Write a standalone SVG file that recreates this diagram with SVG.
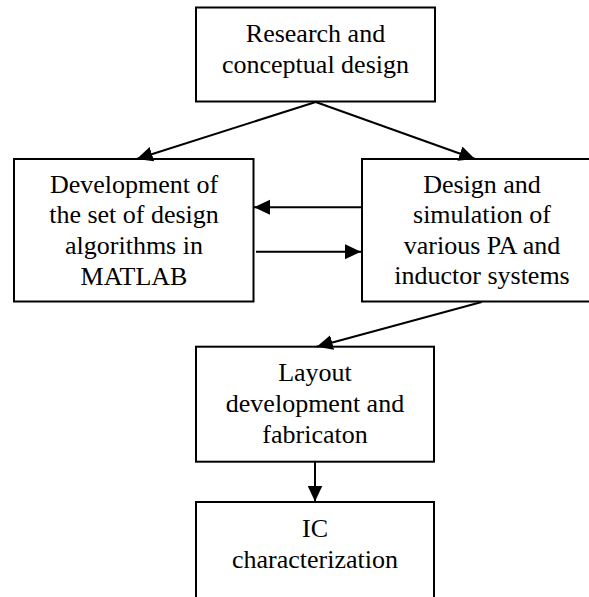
<svg xmlns="http://www.w3.org/2000/svg" width="589" height="597" viewBox="0 0 589 597">
  <style>
    .box { fill: #ffffff; stroke: #000000; stroke-width: 2; }
    .lbl { font-family: "Liberation Serif", "Times New Roman", serif; font-size: 26px; fill: #000000; text-anchor: middle; }
    .link { fill: none; stroke: #000000; stroke-width: 2; marker-end: url(#head); }
  </style>
  <defs>
    <marker id="head" markerUnits="userSpaceOnUse" markerWidth="17" markerHeight="16" refX="16" refY="7.5" orient="auto">
      <path d="M0,0 L16,7.5 L0,15 Z" fill="#000000"/>
    </marker>
  </defs>
  <rect width="589" height="597" fill="#ffffff"/>

  <g id="research">
    <rect class="box" x="196" y="7.5" width="239" height="94"/>
    <text class="lbl" x="315.5" y="41.7">Research and</text>
    <text class="lbl" x="315.5" y="72.7">conceptual design</text>
  </g>

  <g id="algorithms">
    <rect class="box" x="14" y="159" width="239.5" height="142.5"/>
    <text class="lbl" x="134" y="193">Development of</text>
    <text class="lbl" x="134" y="223">the set of design</text>
    <text class="lbl" x="134" y="253.5">algorithms in</text>
    <text class="lbl" x="134" y="285">MATLAB</text>
  </g>

  <g id="simulation">
    <rect class="box" x="362" y="159" width="250" height="142.5"/>
    <text class="lbl" x="482" y="193.3">Design and</text>
    <text class="lbl" x="482" y="223.3">simulation of</text>
    <text class="lbl" x="482" y="254.3">various PA and</text>
    <text class="lbl" x="482" y="284.3">inductor systems</text>
  </g>

  <g id="layout">
    <rect class="box" x="196" y="346.7" width="238" height="115"/>
    <text class="lbl" x="315" y="380.7">Layout</text>
    <text class="lbl" x="315" y="411.7">development and</text>
    <text class="lbl" x="315" y="442.7">fabricaton</text>
  </g>

  <g id="characterization">
    <rect class="box" x="196" y="502" width="238" height="110"/>
    <text class="lbl" x="315" y="536.7">IC</text>
    <text class="lbl" x="315" y="567.7">characterization</text>
  </g>

  <g id="connectors">
    <line class="link" x1="315.7" y1="102" x2="136.7" y2="159"/>
    <line class="link" x1="315.7" y1="102" x2="475" y2="159"/>
    <line class="link" x1="362" y1="207.3" x2="254" y2="207.3"/>
    <line class="link" x1="256" y1="251.7" x2="361" y2="251.7"/>
    <line class="link" x1="481.7" y1="302" x2="316.7" y2="346.7"/>
    <line class="link" x1="315" y1="462" x2="315" y2="501.5"/>
  </g>
</svg>
